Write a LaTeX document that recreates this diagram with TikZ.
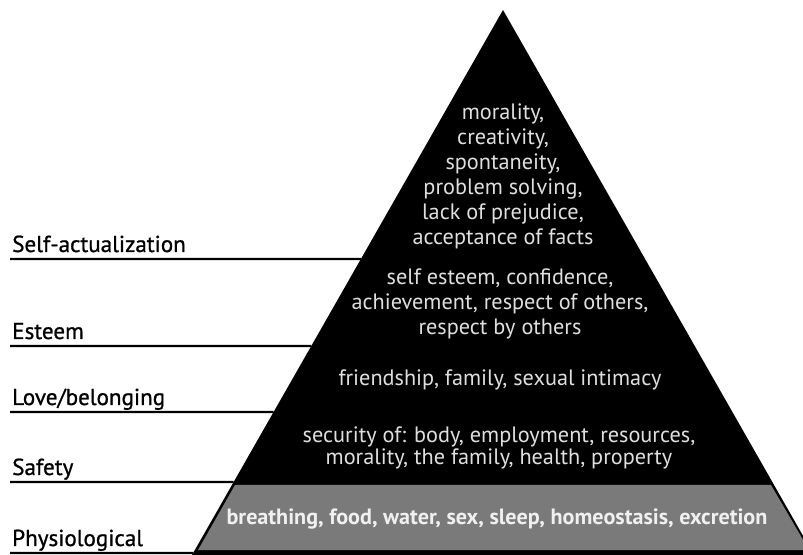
\documentclass[tikz,border=0pt]{standalone}
\usepackage{fontspec}
\setmainfont{PT Sans}
\newfontfamily\levelfont{PT Sans}[FakeBold=0.9]
\usetikzlibrary{calc}
\begin{document}
\begin{tikzpicture}[x=0.75pt,y=-0.75pt,
  levellabel/.style={anchor=base west, inner sep=0pt, text=black,
    font=\levelfont\fontsize{17.3}{19}\selectfont},
  levelrule/.style={draw=black, line width=1.7pt},
  needs/.style={align=center, inner sep=0pt, text=gray!25,
    font=\fontsize{16.7}{18.75}\selectfont},
  needsbase/.style={align=center, inner sep=0pt, text=white!94!black,
    font=\bfseries\fontsize{16.6}{18}\selectfont},
]
% page frame
\clip (0,0) rectangle (803,555);
\fill[white] (0,0) rectangle (803,555);

% pyramid body
\coordinate (apex) at (503,10);
\coordinate (bl) at (192,555);
\coordinate (br) at (814,555);
\fill[black] (apex) -- (bl) -- (br) -- cycle;

% physiological band
\fill[black!52] (235,485) -- (771,485) -- (809,550) -- (198,550) -- cycle;

% level rules, from the left margin to the pyramid edge
\coordinate (sa-l) at (10,259);
\coordinate (sa-r) at ($(apex)!{(259-10)/545}!(bl)$);
\coordinate (es-l) at (10,346);
\coordinate (es-r) at ($(apex)!{(346-10)/545}!(bl)$);
\coordinate (lb-l) at (10,412);
\coordinate (lb-r) at ($(apex)!{(412-10)/545}!(bl)$);
\coordinate (sf-l) at (10,482);
\coordinate (sf-r) at ($(apex)!{(482-10)/545}!(bl)$);
\coordinate (ph-l) at (10,553);
\coordinate (ph-r) at ($(apex)!{(553-10)/545}!(bl)$);

\draw[levelrule] (sa-l) -- (sa-r);
\draw[levelrule] (es-l) -- (es-r);
\draw[levelrule] (lb-l) -- (lb-r);
\draw[levelrule] (sf-l) -- (sf-r);
\draw[levelrule] (ph-l) -- (ph-r);

% level names
\node[levellabel] (lab-sa) at (12,252) {Self-actualization};
\node[levellabel] (lab-es) at (12,339) {Esteem};
\node[levellabel] (lab-lb) at (12,405) {Love/belonging};
\node[levellabel] (lab-sf) at (12,475) {Safety};
\node[levellabel] (lab-ph) at (12,546) {Physiological};

% needs inside the pyramid
\node[needs] (need-sa) at (503,176) {morality,\\creativity,\\spontaneity,\\problem solving,\\lack of prejudice,\\acceptance of facts};
\node[needs] (need-es) at (500,304) {self esteem, confidence,\\achievement, respect of others,\\respect by others};
\node[needs] (need-lb) at (500,380) {friendship, family, sexual intimacy};
\node[needs, font=\fontsize{16.7}{16.5}\selectfont] (need-sf) at (499,448) {security of: body, employment, resources,\\morality, the family, health, property};
\node[needsbase] (need-ph) at (497,519) {breathing, food, water, sex, sleep, homeostasis, excretion};
\end{tikzpicture}
\end{document}
